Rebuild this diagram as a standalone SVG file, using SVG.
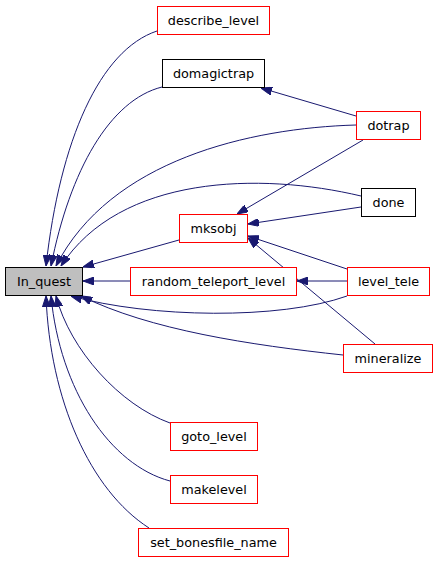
<svg xmlns="http://www.w3.org/2000/svg" width="437" height="563" viewBox="0 0 437 563">
<style>
.n rect{fill:#ffffff;stroke:#ff0000;stroke-width:1}
.n.b rect{stroke:#000000}
.n.g rect{fill:#bfbfbf;stroke:#000000}
.n text{font-family:"DejaVu Sans",sans-serif;font-size:12.8px;fill:#000000;text-anchor:middle}
#edges path{fill:none;stroke:#191970;stroke-width:1;marker-end:url(#ah)}
</style>
<defs>
<marker id="ah" viewBox="0 0 11 8" refX="11" refY="4" markerUnits="userSpaceOnUse" markerWidth="11" markerHeight="8" orient="auto">
<path d="M0,0 L11,4 L0,8 z" fill="#191970" stroke="#191970" stroke-width="1"/>
</marker>
</defs>
<rect width="437" height="563" fill="#ffffff"/>
<g id="edges">
<path d="M157,31 C100,50 60,140 46,266"/>
<path d="M162,87 C110,100 70,170 51,266"/>
<path d="M356,125 C250,128 110,160 56,266"/>
<path d="M361,196 C260,172 120,175 61,266"/>
<path d="M356,116 L261,88"/>
<path d="M361,207 L248,224"/>
<path d="M363,140 L237,214"/>
<path d="M179,240 L83,267"/>
<path d="M130,281 L83,281"/>
<path d="M347,281 L297,281"/>
<path d="M347,269 L248,236"/>
<path d="M375,344 L248,238"/>
<path d="M347,296 C280,320 150,318 71,296"/>
<path d="M343,355 C250,345 150,330 81,296"/>
<path d="M170,423 C120,405 70,350 56,296"/>
<path d="M170,481 C110,465 60,390 51,296"/>
<path d="M149,528 C90,490 50,400 46,296"/>
</g>
<g id="describe_level" class="n"><rect x="157.5" y="6.5" width="112" height="28"/><text x="213.5" y="25">describe_level</text></g>
<g id="domagictrap" class="n b"><rect x="162.5" y="59.5" width="102" height="28"/><text x="213.5" y="78">domagictrap</text></g>
<g id="dotrap" class="n"><rect x="356.5" y="111.5" width="64" height="28"/><text x="388.5" y="130">dotrap</text></g>
<g id="done" class="n b"><rect x="361.5" y="188.5" width="54" height="28"/><text x="388.5" y="207">done</text></g>
<g id="mksobj" class="n"><rect x="179.5" y="214.5" width="68" height="28"/><text x="213.5" y="233">mksobj</text></g>
<g id="In_quest" class="n g"><rect x="5.5" y="267.5" width="77" height="28"/><text x="44" y="286">In_quest</text></g>
<g id="random_teleport_level" class="n"><rect x="130.5" y="267.5" width="166" height="28"/><text x="213.5" y="286">random_teleport_level</text></g>
<g id="level_tele" class="n"><rect x="347.5" y="267.5" width="82" height="28"/><text x="388.5" y="286">level_tele</text></g>
<g id="mineralize" class="n"><rect x="343.5" y="344.5" width="89" height="28"/><text x="388" y="363">mineralize</text></g>
<g id="goto_level" class="n"><rect x="170.5" y="422.5" width="87" height="28"/><text x="214" y="441">goto_level</text></g>
<g id="makelevel" class="n"><rect x="170.5" y="475.5" width="87" height="28"/><text x="214" y="494">makelevel</text></g>
<g id="set_bonesfile_name" class="n"><rect x="138.5" y="528.5" width="150" height="28"/><text x="213.5" y="547">set_bonesfile_name</text></g>
</svg>
